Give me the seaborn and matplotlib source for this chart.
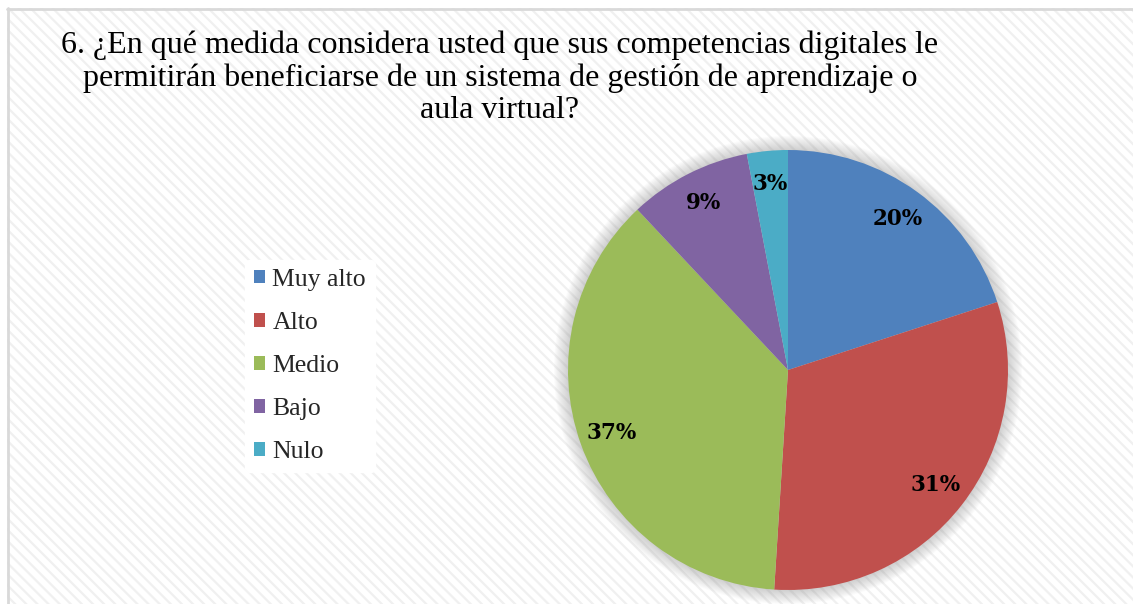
import matplotlib
matplotlib.use('Agg')
import matplotlib.pyplot as plt
import seaborn as sns
from matplotlib.patches import Rectangle, Circle

categories = ['Muy alto', 'Alto', 'Medio', 'Bajo', 'Nulo']
values = [20, 31, 37, 9, 3]
colors = ['#4F81BD', '#C0504D', '#9BBB59', '#8064A2', '#4BACC6']
title = ('6. ¿En qué medida considera usted que sus competencias digitales le\n'
         'permitirán beneficiarse de un sistema de gestión de aprendizaje o\n'
         'aula virtual?')

sns.set_theme(style='white')
plt.rcParams['font.family'] = ['Liberation Serif', 'DejaVu Serif']
plt.rcParams['hatch.linewidth'] = 1.6

W, H = 1133, 604
fig = plt.figure(figsize=(W / 100, H / 100), dpi=100)
ax = fig.add_axes([0, 0, 1, 1])

# striped background + frame
bg = Rectangle((7, -5), W, H - 8 + 5, facecolor='white', edgecolor='#f0f0f0',
               hatch='\\\\\\', linewidth=0, zorder=0)
ax.add_patch(bg)
ax.plot([7.5, 7.5], [0, H - 8], color='#d9d9d9', lw=2, zorder=1)
ax.plot([7, W], [H - 8.5, H - 8.5], color='#d9d9d9', lw=2, zorder=1)

cx, cy, R = 788, H - 370, 220

# soft shadow
for i in range(14):
    ax.add_patch(Circle((cx, cy), R + 14 - i, facecolor='#9a9a9a', alpha=0.035,
                        linewidth=0, zorder=2))

wedges, texts, autotexts = ax.pie(
    values, colors=colors, startangle=90, counterclock=False,
    center=(cx, cy), radius=R, autopct='%d%%', pctdistance=0.85,
    wedgeprops=dict(linewidth=0), frame=True)
for w in wedges:
    w.set_zorder(3)
for t in autotexts:
    t.set_fontfamily(['DejaVu Serif'])
    t.set_fontweight('bold')
    t.set_fontsize(15.5)
    t.set_color('black')
    t.set_zorder(4)
ax.set_xlim(0, W)
ax.set_ylim(0, H)
ax.set_aspect('equal')
ax.axis('off')

fig.text(500 / W, 1 - 30 / H, title, ha='center', va='top', fontsize=23,
         linespacing=1.16, color='black')

leg = fig.legend(wedges, categories, loc='upper left',
                 bbox_to_anchor=(245 / W, 1 - 260 / H), frameon=True,
                 fontsize=18.5, handlelength=0.42, handleheight=0.42,
                 handletextpad=0.3, labelspacing=0.82, borderpad=0.35,
                 borderaxespad=0)
leg.get_frame().set_facecolor('white')
leg.get_frame().set_edgecolor('white')
leg.get_frame().set_alpha(1)

fig.savefig('out.png', dpi=100)
